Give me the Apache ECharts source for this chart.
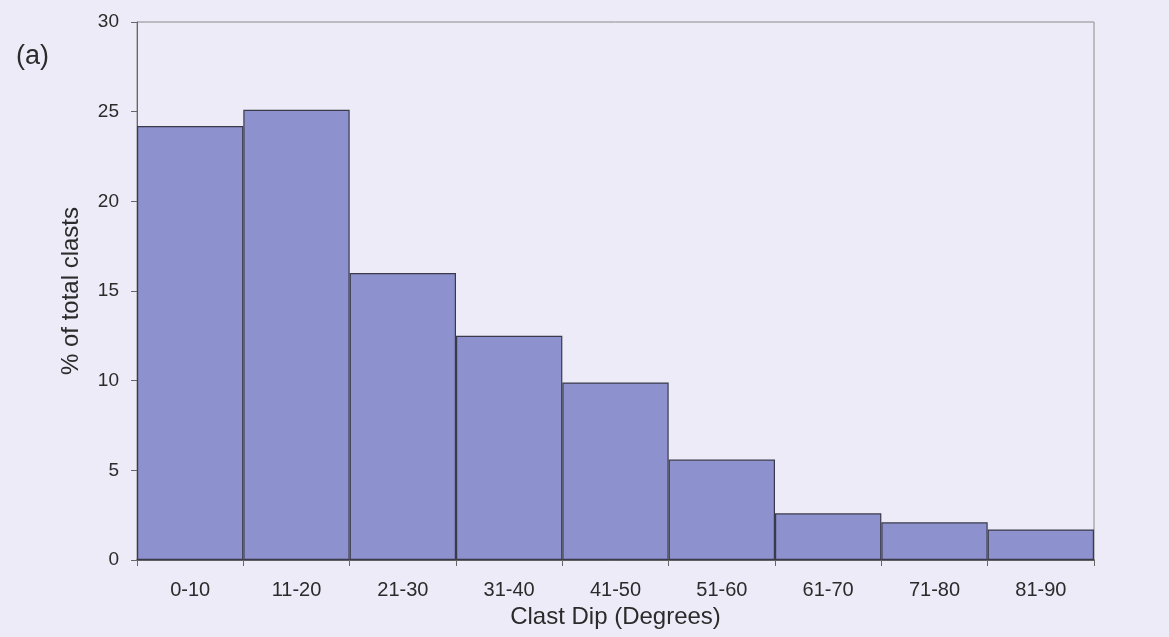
<!DOCTYPE html>
<html><head><meta charset="utf-8">
<script src="https://cdn.jsdelivr.net/npm/echarts@6/dist/echarts.min.js"></script>
<style>html,body{margin:0;padding:0;background:#ecebf7;}#c{width:1169px;height:637px;}</style>
</head><body><div id="c"></div>
<script>
const categories = ['0-10','11-20','21-30','31-40','41-50','51-60','61-70','71-80','81-90'];
const percentClasts = [24.2, 25.1, 16.0, 12.5, 9.9, 5.6, 2.6, 2.1, 1.7];
const yTicks = [0, 5, 10, 15, 20, 25, 30];

const chart = echarts.init(document.getElementById('c'), null, {renderer:'canvas'});
const font = 'Liberation Sans, Arial, sans-serif';
const txt = '#2b2b2b';
chart.setOption({
  backgroundColor: '#ecebf7',
  animation: false,
  title: { text: '(a)', left: 11, top: 38, textStyle: { fontFamily: font, fontSize: 27, fontWeight: 'normal', color: txt } },
  grid: { left: 137, right: 75, top: 22, bottom: 77, show: true, borderColor: '#8a8a8a', borderWidth: 1, backgroundColor: 'transparent' },
  xAxis: {
    type: 'category', data: categories, boundaryGap: true,
    name: 'Clast Dip (Degrees)', nameLocation: 'middle', nameGap: 41,
    nameTextStyle: { fontFamily: font, fontSize: 24, color: txt },
    axisLine: { lineStyle: { color: '#444', width: 1.5 } },
    axisTick: { show: true, length: 6, lineStyle: { color: '#666' } },
    axisLabel: { fontFamily: font, fontSize: 20, color: txt, margin: 20 },
    splitLine: { show: false }
  },
  yAxis: {
    type: 'value', min: yTicks[0], max: yTicks[yTicks.length-1], interval: 5,
    name: '% of total clasts', nameLocation: 'middle', nameGap: 54,
    nameTextStyle: { fontFamily: font, fontSize: 24, color: txt },
    axisLine: { show: true, lineStyle: { color: '#666' } },
    axisTick: { show: true, length: 6, inside: false, lineStyle: { color: '#666' } },
    axisLabel: { fontFamily: font, fontSize: 19, color: txt, margin: 18 },
    splitLine: { show: false }
  },
  series: [{
    type: 'bar', data: percentClasts, barCategoryGap: '0%',
    itemStyle: { color: '#8d91cd', borderColor: '#3a3a4a', borderWidth: 1.2 }
  }]
});
</script></body></html>
